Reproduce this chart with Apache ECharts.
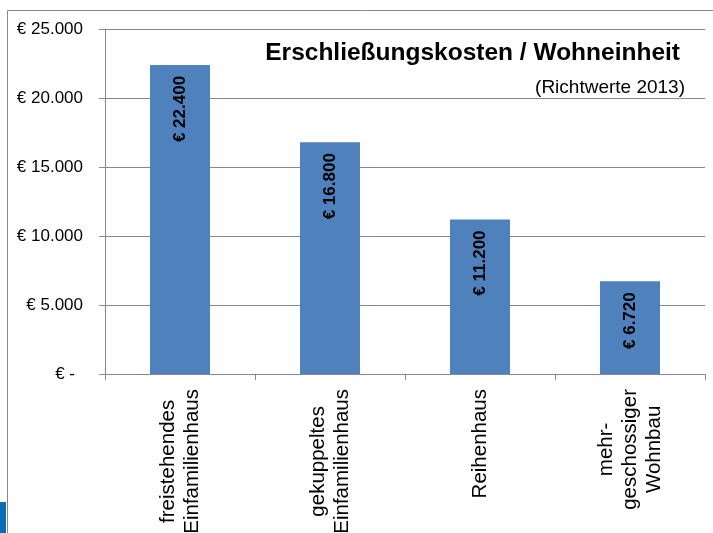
<!DOCTYPE html>
<html>
<head>
<meta charset="utf-8">
<script src="https://cdn.jsdelivr.net/npm/echarts@6/dist/echarts.min.js"></script>
<style>
  html, body { margin: 0; padding: 0; background: #fff; }
  #chart { width: 713px; height: 533px; }
</style>
</head>
<body>
<div id="chart"></div>
<script>
// Erschließungskosten je Wohneinheit (Richtwerte 2013)
const kategorien = [
  "freistehendes\nEinfamilienhaus",
  "gekuppeltes\nEinfamilienhaus",
  "Reihenhaus",
  "mehr-\ngeschossiger\nWohnbau",
];
const kosten = [22400, 16800, 11200, 6720];
const yTicks = [0, 5000, 10000, 15000, 20000, 25000];

const fontFam = "'Liberation Sans', Arial, sans-serif";
const grau = "#888888";
const blau = "#4F81BD";

// 22400 -> "22.400"
const tausender = (v) => String(v).replace(/\B(?=(\d{3})+(?!\d))/g, ".");

const chart = echarts.init(document.getElementById("chart"));

chart.setOption({
  animation: false,
  backgroundColor: "#fff",
  textStyle: { fontFamily: fontFam },

  title: [
    {
      text: "Erschließungskosten / Wohneinheit",
      right: 28,
      top: 36,
      textStyle: { fontFamily: fontFam, fontSize: 24.5, fontWeight: "bold", color: "#000" },
    },
    {
      text: "(Richtwerte 2013)",
      right: 23,
      top: 73,
      textStyle: { fontFamily: fontFam, fontSize: 19, fontWeight: "normal", color: "#000" },
    },
  ],

  graphic: [
    // Rahmen um das Diagramm
    {
      type: "rect",
      shape: { x: 7.5, y: 10.5, width: 730, height: 560 },
      style: { fill: null, stroke: grau, lineWidth: 1 },
      silent: true,
    },
    // blauer Streifen links unten
    {
      type: "rect",
      shape: { x: 0, y: 502, width: 6, height: 31 },
      style: { fill: "#0B6DB3" },
      silent: true,
    },
  ],

  grid: {
    left: 105,
    right: 8,
    top: 29,
    bottom: 159,
    outerBoundsMode: "none", // Beschriftung darf unten abgeschnitten werden
  },

  xAxis: {
    type: "category",
    data: kategorien,
    axisLine: { show: true, lineStyle: { color: grau, width: 1 } },
    axisTick: { show: true, length: 6, alignWithLabel: false, lineStyle: { color: grau } },
    axisLabel: {
      interval: 0,
      rotate: 90,
      margin: 15,
      color: "#000",
      formatter: (val) =>
        val
          .split("\n")
          .map((l) => "{c|" + l + "}")
          .join("\n"),
      rich: {
        c: { align: "center", fontSize: 20.5, lineHeight: 24, fontFamily: fontFam, color: "#000" },
      },
    },
    splitLine: { show: false },
  },

  yAxis: {
    type: "value",
    min: 0,
    max: 25000,
    interval: 5000,
    axisLine: { show: true, lineStyle: { color: grau, width: 1 } },
    axisTick: { show: true, length: 6, lineStyle: { color: grau } },
    axisLabel: {
      margin: 22,
      color: "#000",
      fontSize: 17,
      fontFamily: fontFam,
      customValues: yTicks,
      formatter: (v) => (v === 0 ? "{z|€ -}" : "€ " + tausender(v)),
      rich: {
        z: { fontSize: 17, fontFamily: fontFam, color: "#000", padding: [0, 8, 0, 0] },
      },
    },
    splitLine: { show: true, lineStyle: { color: grau, width: 1 } },
  },

  series: [
    {
      type: "bar",
      data: kosten,
      barWidth: 60,
      itemStyle: { color: blau },
      label: {
        show: true,
        position: "insideTop",
        distance: 11,
        rotate: 90,
        align: "right",
        verticalAlign: "middle",
        fontSize: 17,
        fontWeight: "bold",
        fontFamily: fontFam,
        color: "#000",
        formatter: (p) => "€ " + tausender(p.value),
      },
    },
  ],
});
</script>
</body>
</html>
